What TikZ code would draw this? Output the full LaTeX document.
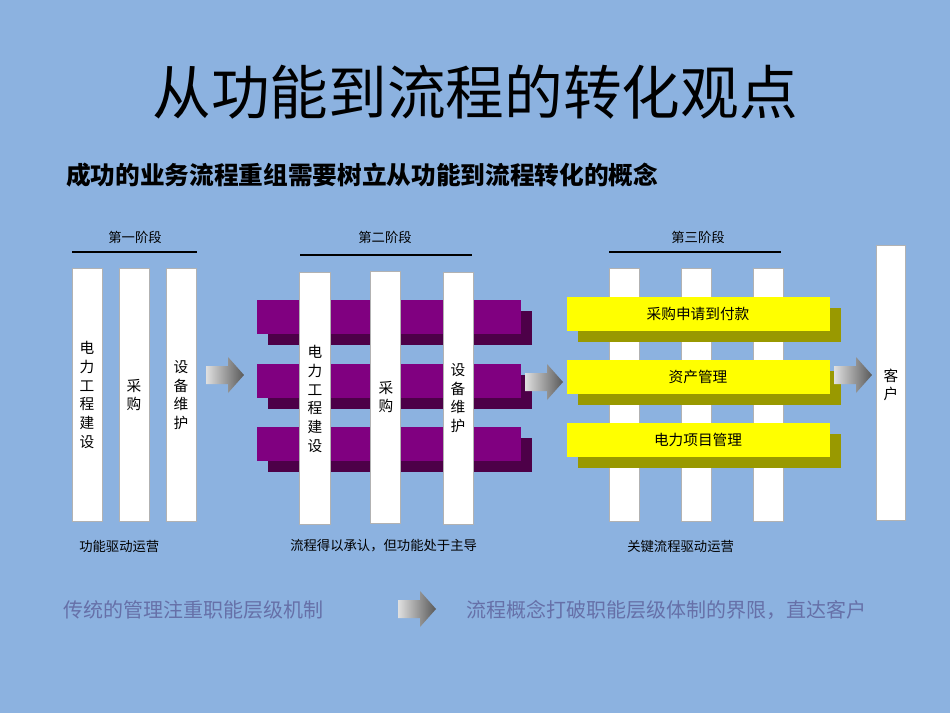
\documentclass[tikz,border=0pt]{standalone}
\usepackage{fontspec}
\setmainfont{Noto Sans CJK SC}
\definecolor{bg}{HTML}{8CB2E0}
\definecolor{purp}{HTML}{800080}
\definecolor{purpd}{HTML}{4D0048}
\definecolor{yel}{HTML}{FFFF00}
\definecolor{yeld}{HTML}{999900}
\definecolor{muted}{HTML}{6670A8}
\tikzset{
 wbar/.style={fill=white,draw=gray!60,line width=0.3pt},
 lbl/.style={font=\fontsize{11}{14}\selectfont,align=center,inner sep=0pt},
 stg/.style={font=\fontsize{10}{12}\selectfont,inner sep=0pt},
 captxt/.style={font=\fontsize{10}{12}\selectfont,anchor=west,inner sep=0pt},
 pics/barrow/.style={code={
  \shade[left color=gray!25,right color=black!65] (0,-9)--(22,-9)--(22,-18)--(38,0)--(22,18)--(22,9)--(0,9)--cycle;}}
}
\begin{document}
\begin{tikzpicture}[x=0.75pt,y=-0.75pt]
\fill[bg] (0,0) rectangle (950,713);
\useasboundingbox (0,0) rectangle (950,713);
\node[font=\fontsize{44}{50}\selectfont,inner sep=0pt] (title) at (475,92) {从功能到流程的转化观点};
\node[font=\fontsize{18.5}{22}\selectfont\bfseries,anchor=west,inner sep=0pt] (sub) at (66,175) {成功的业务流程重组需要树立从功能到流程转化的概念};
% stage 1
\node[stg] (s1) at (135,237) {第一阶段};
\draw[line width=0.8pt] (72,252) -- (197,252);
\draw[wbar] (72,268) rectangle (102,521);
\draw[wbar] (119,268) rectangle (149,521);
\draw[wbar] (166,268) rectangle (196,521);
\node[lbl] (a1) at (87,395) {电\\力\\工\\程\\建\\设};
\node[lbl] (a2) at (134,395) {采\\购};
\node[lbl] (a3) at (181,395) {设\\备\\维\\护};
\pic at (206,375) {barrow};
% stage 2
\node[stg] (s2) at (385,237) {第二阶段};
\draw[line width=0.8pt] (300,255) -- (472,255);
\foreach \yy in {300,364,427}{
 \fill[purpd] (268,\yy+11) rectangle (532,\yy+45);
 \fill[purp] (257,\yy) rectangle (521,\yy+34);}
\draw[wbar] (299,272) rectangle (330,524);
\draw[wbar] (370,271) rectangle (400,523);
\draw[wbar] (443,272) rectangle (473,524);
\node[lbl] (b1) at (315,399) {电\\力\\工\\程\\建\\设};
\node[lbl] (b2) at (386,397) {采\\购};
\node[lbl] (b3) at (458,398) {设\\备\\维\\护};
\pic at (525,382) {barrow};
% stage 3
\node[stg] (s3) at (698,237) {第三阶段};
\draw[line width=0.8pt] (609,252) -- (781,252);
\draw[wbar] (609,268) rectangle (639,521);
\draw[wbar] (681,268) rectangle (711,521);
\draw[wbar] (753,268) rectangle (783,521);
\foreach \yy/\txt in {297/采购申请到付款,360/资产管理,423/电力项目管理}{
 \fill[yeld] (578,\yy+11) rectangle (841,\yy+45);
 \fill[yel] (567,\yy) rectangle (830,\yy+34);
 \node[font=\fontsize{11}{13}\selectfont,inner sep=0pt] at (698,\yy+17) {\txt};}
\pic at (834,375) {barrow};
\draw[wbar] (876,245) rectangle (905,520);
\node[lbl] (c) at (891,385) {客\\户};
% captions
\node[captxt] (k1) at (79,546) {功能驱动运营};
\node[captxt] (k2) at (290,546) {流程得以承认，但功能处于主导};
\node[captxt] (k3) at (627,546) {关键流程驱动运营};
\node[font=\fontsize{15}{18}\selectfont,text=muted,anchor=west,inner sep=0pt] (m1) at (63,610) {传统的管理注重职能层级机制};
\pic at (398,609) {barrow};
\node[font=\fontsize{15}{18}\selectfont,text=muted,anchor=west,inner sep=0pt] (m2) at (466,610) {流程概念打破职能层级体制的界限，直达客户};
\end{tikzpicture}
\end{document}
